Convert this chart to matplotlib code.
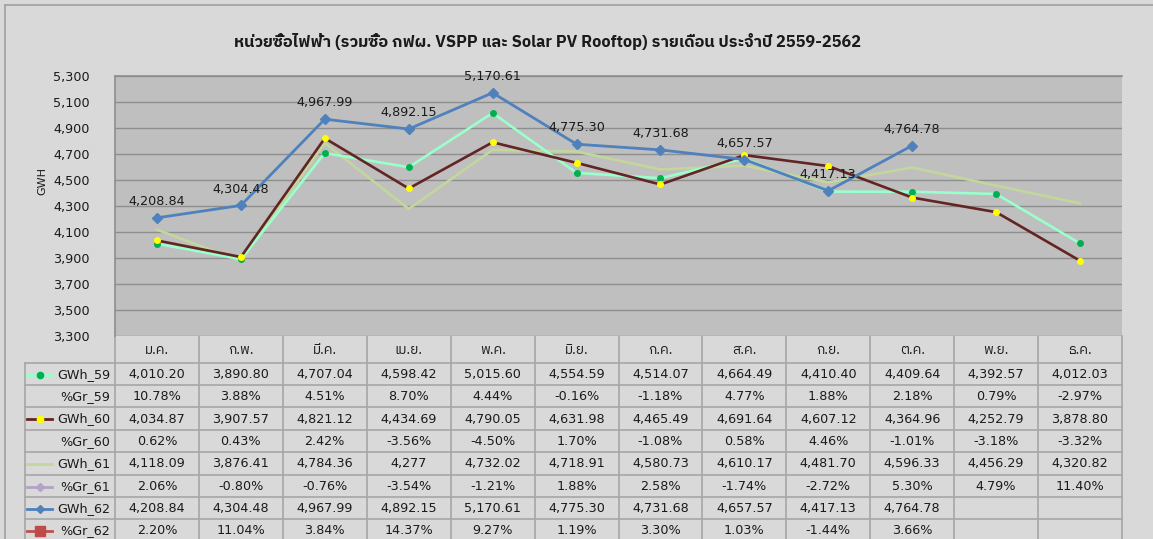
import matplotlib
matplotlib.use("Agg")
import matplotlib.pyplot as plt
from matplotlib import font_manager
from matplotlib.ft2font import FT2Font


months = ["ม.ค.", "ก.พ.", "มี.ค.", "เม.ย.", "พ.ค.", "มิ.ย.",
          "ก.ค.", "ส.ค.", "ก.ย.", "ต.ค.", "พ.ย.", "ธ.ค."]

gwh_59 = [4010.20, 3890.80, 4707.04, 4598.42, 5015.60, 4554.59,
          4514.07, 4664.49, 4410.40, 4409.64, 4392.57, 4012.03]
gr_59 = [10.78, 3.88, 4.51, 8.70, 4.44, -0.16, -1.18, 4.77, 1.88, 2.18, 0.79, -2.97]
gwh_60 = [4034.87, 3907.57, 4821.12, 4434.69, 4790.05, 4631.98,
          4465.49, 4691.64, 4607.12, 4364.96, 4252.79, 3878.80]
gr_60 = [0.62, 0.43, 2.42, -3.56, -4.50, 1.70, -1.08, 0.58, 4.46, -1.01, -3.18, -3.32]
gwh_61 = [4118.09, 3876.41, 4784.36, 4277, 4732.02, 4718.91,
          4580.73, 4610.17, 4481.70, 4596.33, 4456.29, 4320.82]
gr_61 = [2.06, -0.80, -0.76, -3.54, -1.21, 1.88, 2.58, -1.74, -2.72, 5.30, 4.79, 11.40]
gwh_62 = [4208.84, 4304.48, 4967.99, 4892.15, 5170.61, 4775.30,
          4731.68, 4657.57, 4417.13, 4764.78, None, None]
gr_62 = [2.20, 11.04, 3.84, 14.37, 9.27, 1.19, 3.30, 1.03, -1.44, 3.66, None, None]

title = "หน่วยซื้อไฟฟ้า (รวมซื้อ กฟผ. VSPP และ Solar PV Rooftop) รายเดือน ประจำปี 2559-2562"

W, H = 1153, 539
BG = "#d9d9d9"
PLOT_BG = "#bfbfbf"
GRID = "#8e8e8e"
CELL_LINE = "#a6a6a6"
TXT = "#1a1a1a"
FS = 9.2


def find_thai_font():
    found = []
    for f in font_manager.fontManager.ttflist:
        try:
            if 0x0E2B in FT2Font(f.fname).get_charmap():
                found.append(f.name)
        except Exception:
            continue
    found.sort(key=lambda n: (0 if "Sans" in n else 1, n))
    return found[0] if found else None


thai = find_thai_font()
THAI_FAM = [thai, "DejaVu Sans"] if thai else ["DejaVu Sans"]
NUM_FAM = ["DejaVu Sans"]


def fmt_gwh(v):
    if v is None:
        return ""
    if isinstance(v, int):
        return "{:,}".format(v)
    return "{:,.2f}".format(v)


def fmt_pct(v):
    if v is None:
        return ""
    return "{:.2f}%".format(v)


def px_rect(x0, y0, x1, y1):
    return [x0 / W, 1 - y1 / H, (x1 - x0) / W, (y1 - y0) / H]


fig = plt.figure(figsize=(W / 100, H / 100), dpi=100, facecolor=BG)

# overlay in pixel coordinates for table, borders, title
ov = fig.add_axes([0, 0, 1, 1])
ov.set_xlim(0, W)
ov.set_ylim(H, 0)
ov.axis("off")
ov.patch.set_alpha(0)

ov.plot([5, W], [5, 5], color="#a0a0a0", lw=1.2)
ov.plot([5, 5], [5, H], color="#a0a0a0", lw=1.2)

ov.text(547, 42, title, ha="center", va="center", fontsize=11.8,
        fontweight="bold", family=THAI_FAM, color=TXT)
ov.text(42, 181, "GWH", rotation=90, ha="center", va="center",
        fontsize=8, family=NUM_FAM, color=TXT)

# plot area
x0, x1 = 115, 1122
top, bottom = 76, 336
ax = fig.add_axes(px_rect(x0, top, x1, bottom))
ax.set_facecolor(PLOT_BG)
ax.set_xlim(-0.5, 11.5)
ax.set_ylim(3300, 5300)
ax.set_yticks(range(3300, 5301, 200))
ax.set_yticklabels(["{:,}".format(v) for v in range(3300, 5301, 200)],
                   fontsize=FS, family=NUM_FAM, color=TXT)
ax.tick_params(axis="y", length=0, pad=18)
ax.set_xticks([])
ax.grid(axis="y", color=GRID, lw=1.0)
for s in ax.spines.values():
    s.set_color(GRID)
    s.set_linewidth(1.2)
ax.spines["bottom"].set_visible(False)
ax.spines["right"].set_visible(False)

xs = list(range(12))
ax.plot(xs, gwh_61, color="#c3d69b", lw=1.9, zorder=3)
ax.plot(xs, gwh_59, color="#99ffcc", lw=1.9, marker="o", ms=4,
        mfc="#00b050", mec="#00b050", zorder=4)
ax.plot(xs, gwh_60, color="#632523", lw=1.9, marker="o", ms=4,
        mfc="#ffff00", mec="#ffff00", zorder=5)
x62 = [x for x, v in zip(xs, gwh_62) if v is not None]
y62 = [v for v in gwh_62 if v is not None]
ax.plot(x62, y62, color="#4f81bd", lw=2.0, marker="D", ms=5,
        mfc="#4f81bd", mec="#4f81bd", zorder=6)
for x, v in zip(x62, y62):
    ax.annotate(fmt_gwh(v), (x, v), xytext=(0, 7), textcoords="offset points",
                ha="center", va="bottom", fontsize=FS, family=NUM_FAM,
                color=TXT, zorder=7)

# data table
col_w = (x1 - x0) / 12
row_top = [336, 363, 385, 407, 430, 452, 475, 497, 519, 541]
leg_left = 25

for i in range(13):
    cx = x0 + i * col_w
    ov.plot([cx, cx], [336, H], color=CELL_LINE, lw=1.2)
ov.plot([leg_left, leg_left], [363, H], color=CELL_LINE, lw=1.2)
for y in row_top[1:-1]:
    ov.plot([leg_left, x1], [y, y], color=CELL_LINE, lw=1.2)

for i, m in enumerate(months):
    ov.text(x0 + (i + 0.5) * col_w, (336 + 363) / 2 + 1, m, ha="center",
            va="center", fontsize=9.8, family=THAI_FAM, color=TXT)

rows = [
    ("GWh_59", [fmt_gwh(v) for v in gwh_59], "#99ffcc", "o", "#00b050"),
    ("%Gr_59", [fmt_pct(v) for v in gr_59], None, None, None),
    ("GWh_60", [fmt_gwh(v) for v in gwh_60], "#632523", "o", "#ffff00"),
    ("%Gr_60", [fmt_pct(v) for v in gr_60], None, None, None),
    ("GWh_61", [fmt_gwh(v) for v in gwh_61], "#c3d69b", None, None),
    ("%Gr_61", [fmt_pct(v) for v in gr_61], "#b3a2c7", "D", "#b3a2c7"),
    ("GWh_62", [fmt_gwh(v) for v in gwh_62], "#4f81bd", "D", "#4f81bd"),
    ("%Gr_62", [fmt_pct(v) for v in gr_62], "#c0504d", "s", "#be4b48"),
]

for r, (name, cells, lc, mk, mc) in enumerate(rows):
    yc = (row_top[r + 1] + row_top[r + 2]) / 2 + 0.5
    ov.text(110, yc, name, ha="right", va="center", fontsize=FS,
            family=NUM_FAM, color=TXT)
    if lc is not None:
        ov.plot([27, 52], [yc, yc], color=lc, lw=2)
        if mk is not None:
            ms = 7 if mk == "s" else 4.5
            ov.plot([39.5], [yc], marker=mk, ms=ms, color=mc, ls="none")
    for i, t in enumerate(cells):
        ov.text(x0 + (i + 0.5) * col_w, yc, t, ha="center", va="center",
                fontsize=FS, family=NUM_FAM, color=TXT)

fig.savefig("out.png", dpi=100, facecolor=BG)
